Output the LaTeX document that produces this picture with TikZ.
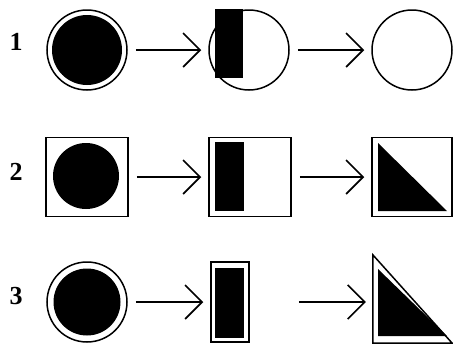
\documentclass[tikz,border=0pt]{standalone}
\usepackage{fontspec}
\setmainfont{Liberation Serif}
\usetikzlibrary{arrows.meta}

\begin{document}
\begin{tikzpicture}[x=1pt,y=-1pt,
    ring/.style={draw,circle,line width=1.5pt,minimum size=80pt,inner sep=0pt},
    frame/.style={draw,rectangle,line width=1.5pt,inner sep=0pt},
    spot/.style={circle,fill=black,inner sep=0pt},
    num/.style={font=\fontsize{26}{26}\selectfont\bfseries},
    arr/.style={line width=1.6pt,-{Straight Barb[length=17pt,width=34pt]},shorten <=8pt,shorten >=7pt}
]
\useasboundingbox (0,0) rectangle (453,346);

% row 1
\node[num] (n1) at (16,42) {1};
\node[ring] (a1) at (87,50) {};
\node[spot,minimum size=70pt] at (a1) {};
\node[ring] (b1) at (249,50) {};
\fill (215,9) rectangle (243,78);
\node[ring] (c1) at (412,50) {};
\draw[arr] (a1) -- (b1);
\draw[arr] (b1) -- (c1);

% row 2
\node[num] (n2) at (16,172) {2};
\node[frame,minimum width=82pt,minimum height=79pt] (a2) at (87,177) {};
\node[spot,minimum size=66pt] at (86,176) {};
\node[frame,minimum width=82pt,minimum height=79pt] (b2) at (250,177) {};
\fill (215,142) rectangle (244,211);
\node[frame,minimum width=80pt,minimum height=79pt] (c2) at (412,177) {};
\fill (378,143) -- (378,211) -- (447,211) -- cycle;
\draw[arr] (a2) -- (b2);
\draw[arr] (b2) -- (c2);

% row 3
\node[num] (n3) at (16,296) {3};
\node[ring] (a3) at (87,302) {};
\node[spot,minimum size=67pt] at (a3) {};
\node[frame,minimum width=38pt,minimum height=80pt] (b3) at (230,302) {};
\fill (215,268) rectangle (244,338);
\node[inner sep=0pt,minimum width=79pt,minimum height=88pt] (c3) at (412.5,299) {};
\draw[line width=1.5pt,line join=miter] (c3.north west) -- (c3.south west) -- (c3.south east) -- cycle;
\fill (378,269) -- (378,336) -- (447,336) -- cycle;
\draw[arr] (a3) -- (b3);
\draw[arr,shorten <=49pt] (b3.east) -- (b3.east -| c3.west);
\end{tikzpicture}
\end{document}
